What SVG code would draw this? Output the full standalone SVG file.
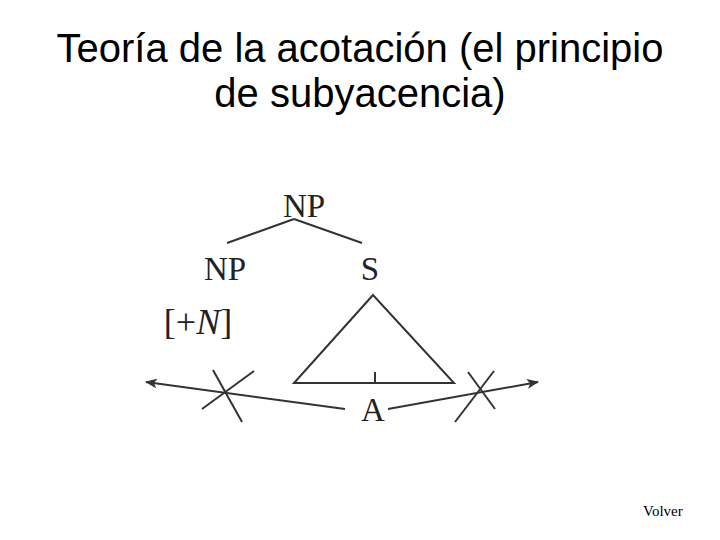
<svg xmlns="http://www.w3.org/2000/svg" width="720" height="540" viewBox="0 0 720 540">
<defs>
<style>
.title{font-family:"Liberation Sans",Arial,sans-serif;font-size:40px;fill:#000;text-anchor:middle}
.lbl{font-family:"Liberation Serif","Times New Roman",serif;font-size:33px;fill:#222;text-anchor:middle}
.ln{stroke:#333;stroke-width:2;fill:none}
.small{font-family:"Liberation Serif","Times New Roman",serif;font-size:15px;fill:#000}
</style>
<marker id="arr" viewBox="0 0 12 10" refX="11" refY="5" markerWidth="12" markerHeight="10" markerUnits="userSpaceOnUse" orient="auto">
<path d="M0,0 L12,5 L0,10 L3,5 Z" fill="#333"/>
</marker>
</defs>
<rect width="720" height="540" fill="#fff"/>
<g id="title">
<text class="title" x="360" y="62">Teoría de la acotación (el principio</text>
<text class="title" x="360" y="107">de subyacencia)</text>
</g>
<g id="connectors">
<line class="ln" x1="294" y1="219" x2="227" y2="243"/>
<line class="ln" x1="294" y1="219" x2="362" y2="243"/>
<polygon class="ln" points="373,295 294,383 454,383"/>
<line class="ln" x1="375" y1="372" x2="375" y2="383"/>
<line class="ln" x1="345" y1="409" x2="146" y2="382" marker-end="url(#arr)"/>
<line class="ln" x1="388" y1="409" x2="538" y2="382" marker-end="url(#arr)"/>
<line class="ln" x1="213" y1="370" x2="242" y2="422"/>
<line class="ln" x1="254" y1="371" x2="202" y2="409"/>
<line class="ln" x1="494" y1="371" x2="455" y2="422"/>
<line class="ln" x1="468" y1="372" x2="495" y2="409"/>
</g>
<g id="np-top"><text class="lbl" x="304" y="217">NP</text></g>
<g id="np-left"><text class="lbl" x="225" y="280">NP</text></g>
<g id="s"><text class="lbl" x="370" y="280">S</text></g>
<g id="feature"><text class="lbl" x="198" y="334" style="font-size:36px">[+<tspan font-style="italic">N</tspan>]</text></g>
<g id="a"><text class="lbl" x="373" y="421">A</text></g>
<g id="volver"><text class="small" x="643" y="516">Volver</text></g>
</svg>
